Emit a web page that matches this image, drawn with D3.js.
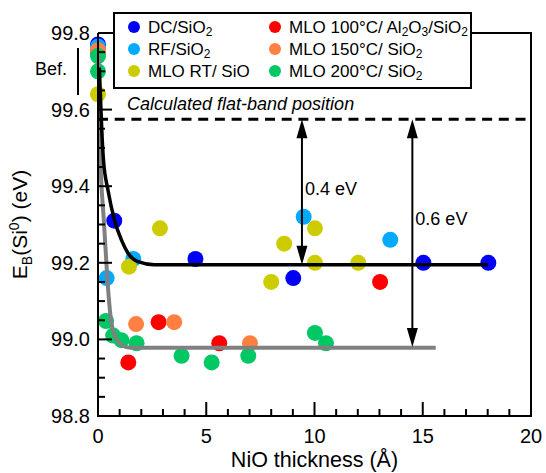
<!DOCTYPE html>
<html>
<head>
<meta charset="utf-8">
<script src="https://cdn.jsdelivr.net/npm/d3@7"></script>
<style>
  html, body { margin: 0; padding: 0; background: #fff; }
  svg { display: block; font-family: "Liberation Sans", Arial, sans-serif; }
</style>
</head>
<body>
<svg id="chart" width="546" height="473"></svg>
<script>
// ---------------- DATA ----------------
const seriesNames = ["DC/SiO2", "RF/SiO2", "MLO RT/ SiO", "MLO 100°C/ Al2O3/SiO2", "MLO 150°C/ SiO2", "MLO 200°C/ SiO2"];
const seriesColors = ["#0000f5", "#00aaff", "#cccc00", "#ff0000", "#ff8040", "#00c864"];

const dcX = [0, 0.75, 4.5, 9.02, 15.03, 18.03];
const dcY = [99.77, 99.31, 99.21, 99.16, 99.20, 99.20];

const rfX = [0, 0.40, 1.63, 9.50, 13.50];
const rfY = [99.765, 99.16, 99.21, 99.32, 99.26];

const rtX = [0, 1.43, 2.86, 8.0, 8.6, 10.02, 10.02, 12.02];
const rtY = [99.64, 99.19, 99.29, 99.15, 99.25, 99.29, 99.20, 99.20];

const m100X = [0, 1.40, 2.80, 5.60, 13.03];
const m100Y = [99.75, 98.94, 99.045, 98.99, 99.15];

const m150X = [0, 1.76, 3.52, 7.02];
const m150Y = [99.755, 99.04, 99.045, 98.99];

const m200X = [0, 0, 0.37, 0.70, 1.08, 1.78, 3.86, 5.25, 6.94, 10.02, 10.53];
const m200Y = [99.74, 99.70, 99.048, 99.01, 98.998, 98.99, 98.957, 98.94, 98.957, 99.017, 98.99];

// fit curves
const blackFitX = [0.06, 0.12, 0.18, 0.25, 0.46, 0.77, 1.08, 1.39, 1.85, 2.6, 4.0, 18.0];
const blackFitY = [99.71, 99.625, 99.54, 99.47, 99.39, 99.31, 99.26, 99.225, 99.203, 99.195, 99.195, 99.195];

const grayFitX = [0.03, 0.06, 0.10, 0.27, 0.43, 0.58, 0.77, 1.10, 1.50, 15.6];
const grayFitY = [99.74, 99.60, 99.49, 99.31, 99.16, 99.06, 99.01, 98.985, 98.978, 98.978];

const flatBand = 99.575;
const arrowX = [9.42, 14.52];
const arrowTo = [99.195, 98.98];
const arrowLabels = ["0.4 eV", "0.6 eV"];
const arrowLabelY = [99.377, 99.30];

const befRange = [99.761, 99.638];

const xMajorTicks = [0, 5, 10, 15, 20];
const xMinorTicks = d3.range(0, 21, 1);
const yMajorTicks = [98.8, 99.0, 99.2, 99.4, 99.6, 99.8];
const yMinorTicks = d3.range(98.8, 99.801, 0.05);

// ---------------- CHART ----------------
const svg = d3.select("#chart");
const x = d3.scaleLinear().domain([0, 20]).range([98, 531]);
const y = d3.scaleLinear().domain([98.8, 99.8]).range([416, 33]);

const allSeries = [
  [dcX, dcY], [rfX, rfY], [rtX, rtY], [m100X, m100Y], [m150X, m150Y], [m200X, m200Y]
];

// points
allSeries.forEach((s, i) => {
  const pts = s[0].map((xv, j) => [xv, s[1][j]]);
  svg.append("g").selectAll("circle").data(pts).join("circle")
    .attr("cx", d => x(d[0])).attr("cy", d => y(d[1])).attr("r", 8)
    .attr("fill", seriesColors[i]);
});

// fit lines
const line = d3.line().x(d => x(d[0])).y(d => y(d[1])).curve(d3.curveMonotoneX);
svg.append("path").datum(grayFitX.map((v, i) => [v, grayFitY[i]]))
  .attr("d", line).attr("fill", "none").attr("stroke", "#808080").attr("stroke-width", 4);
svg.append("path").datum(blackFitX.map((v, i) => [v, blackFitY[i]]))
  .attr("d", line).attr("fill", "none").attr("stroke", "#000").attr("stroke-width", 3.5);

// flat band dashed line
svg.append("line").attr("x1", x(0)).attr("x2", x(20)).attr("y1", y(flatBand)).attr("y2", y(flatBand))
  .attr("stroke", "#000").attr("stroke-width", 3).attr("stroke-dasharray", "10,6.7");
svg.append("text").attr("x", 127).attr("y", y(flatBand) - 9)
  .attr("font-size", 18).attr("font-style", "italic").text("Calculated flat-band position");

// arrows
arrowX.forEach((ax, i) => {
  const px = x(ax), y0 = y(flatBand), y1 = y(arrowTo[i]);
  const hl = 19, hw = 5.5;
  svg.append("line").attr("x1", px).attr("x2", px).attr("y1", y0 + hl - 2).attr("y2", y1 - hl + 2)
    .attr("stroke", "#000").attr("stroke-width", 2);
  svg.append("path").attr("d", `M${px},${y0} L${px - hw},${y0 + hl} L${px + hw},${y0 + hl} Z`).attr("fill", "#000");
  svg.append("path").attr("d", `M${px},${y1} L${px - hw},${y1 - hl} L${px + hw},${y1 - hl} Z`).attr("fill", "#000");
  svg.append("text").attr("x", px + 3).attr("y", y(arrowLabelY[i]))
    .attr("font-size", 18).text(arrowLabels[i]);
});

// axes frame
const frame = svg.append("g").attr("stroke", "#000").attr("stroke-width", 2).attr("fill", "none");
frame.append("path").attr("d", `M${x(0)},${y(99.8)} L${x(0)},${y(98.8)} L${x(20)},${y(98.8)} L${x(20)},${y(99.8)} L${x(0)},${y(99.8)}`);

// ticks
xMinorTicks.forEach(t => {
  const len = xMajorTicks.includes(t) ? 14 : 7;
  frame.append("line").attr("x1", x(t)).attr("x2", x(t)).attr("y1", y(98.8)).attr("y2", y(98.8) - len);
});
yMinorTicks.forEach(t => {
  const isMaj = yMajorTicks.some(m => Math.abs(m - t) < 1e-6);
  const len = isMaj ? 14 : 7;
  frame.append("line").attr("x1", x(0)).attr("x2", x(0) + len).attr("y1", y(t)).attr("y2", y(t));
});

svg.append("g").selectAll("text").data(xMajorTicks).join("text")
  .attr("x", d => x(d)).attr("y", y(98.8) + 27).attr("text-anchor", "middle")
  .attr("font-size", 20).text(d => d);
svg.append("g").selectAll("text").data(yMajorTicks).join("text")
  .attr("x", x(0) - 8).attr("y", d => y(d)).attr("dy", "0.35em").attr("text-anchor", "end")
  .attr("font-size", 20).text(d => d.toFixed(1));

// axis titles
svg.append("text").attr("x", (x(0) + x(20)) / 2).attr("y", 467).attr("text-anchor", "middle")
  .attr("font-size", 21.5).text("NiO thickness (Å)");
const yt = svg.append("text").attr("transform", `translate(27,${(y(98.8) + y(99.8)) / 2}) rotate(-90)`)
  .attr("text-anchor", "middle").attr("font-size", 21);
yt.append("tspan").text("E");
yt.append("tspan").attr("font-size", 14).attr("dy", 5).text("B");
yt.append("tspan").attr("dy", -5).text("(Si");
yt.append("tspan").attr("font-size", 14).attr("dy", -8).text("0");
yt.append("tspan").attr("dy", 8).text(") (eV)");

// Bef.
svg.append("line").attr("x1", 78).attr("x2", 78).attr("y1", y(befRange[0])).attr("y2", y(befRange[1]))
  .attr("stroke", "#000").attr("stroke-width", 2);
svg.append("text").attr("x", 35).attr("y", 75).attr("font-size", 18).text("Bef.");

// legend
const lg = svg.append("g");
lg.append("rect").attr("x", 114).attr("y", 13).attr("width", 357).attr("height", 75)
  .attr("fill", "#fff").attr("stroke", "#000").attr("stroke-width", 2);
seriesNames.forEach((n, i) => {
  const col = Math.floor(i / 3), row = i % 3;
  const mx = col === 0 ? 134 : 275;
  const by = 33 + row * 22;
  lg.append("circle").attr("cx", mx).attr("cy", by - 6).attr("r", 6).attr("fill", seriesColors[i]);
  const t = lg.append("text").attr("x", mx + 14).attr("y", by).attr("font-size", 17);
  if (n === "MLO 100°C/ Al2O3/SiO2") {
    t.append("tspan").text("MLO 100°C/ Al");
    t.append("tspan").attr("font-size", 12).attr("baseline-shift", "-25%").text("2");
    t.append("tspan").text("O");
    t.append("tspan").attr("font-size", 12).attr("baseline-shift", "-25%").text("3");
    t.append("tspan").text("/SiO");
    t.append("tspan").attr("font-size", 12).attr("baseline-shift", "-25%").text("2");
  } else if (n.endsWith("SiO2")) {
    t.append("tspan").text(n.slice(0, -1));
    t.append("tspan").attr("font-size", 12).attr("baseline-shift", "-25%").text("2");
  } else {
    t.text(n);
  }
});
</script>
</body>
</html>
